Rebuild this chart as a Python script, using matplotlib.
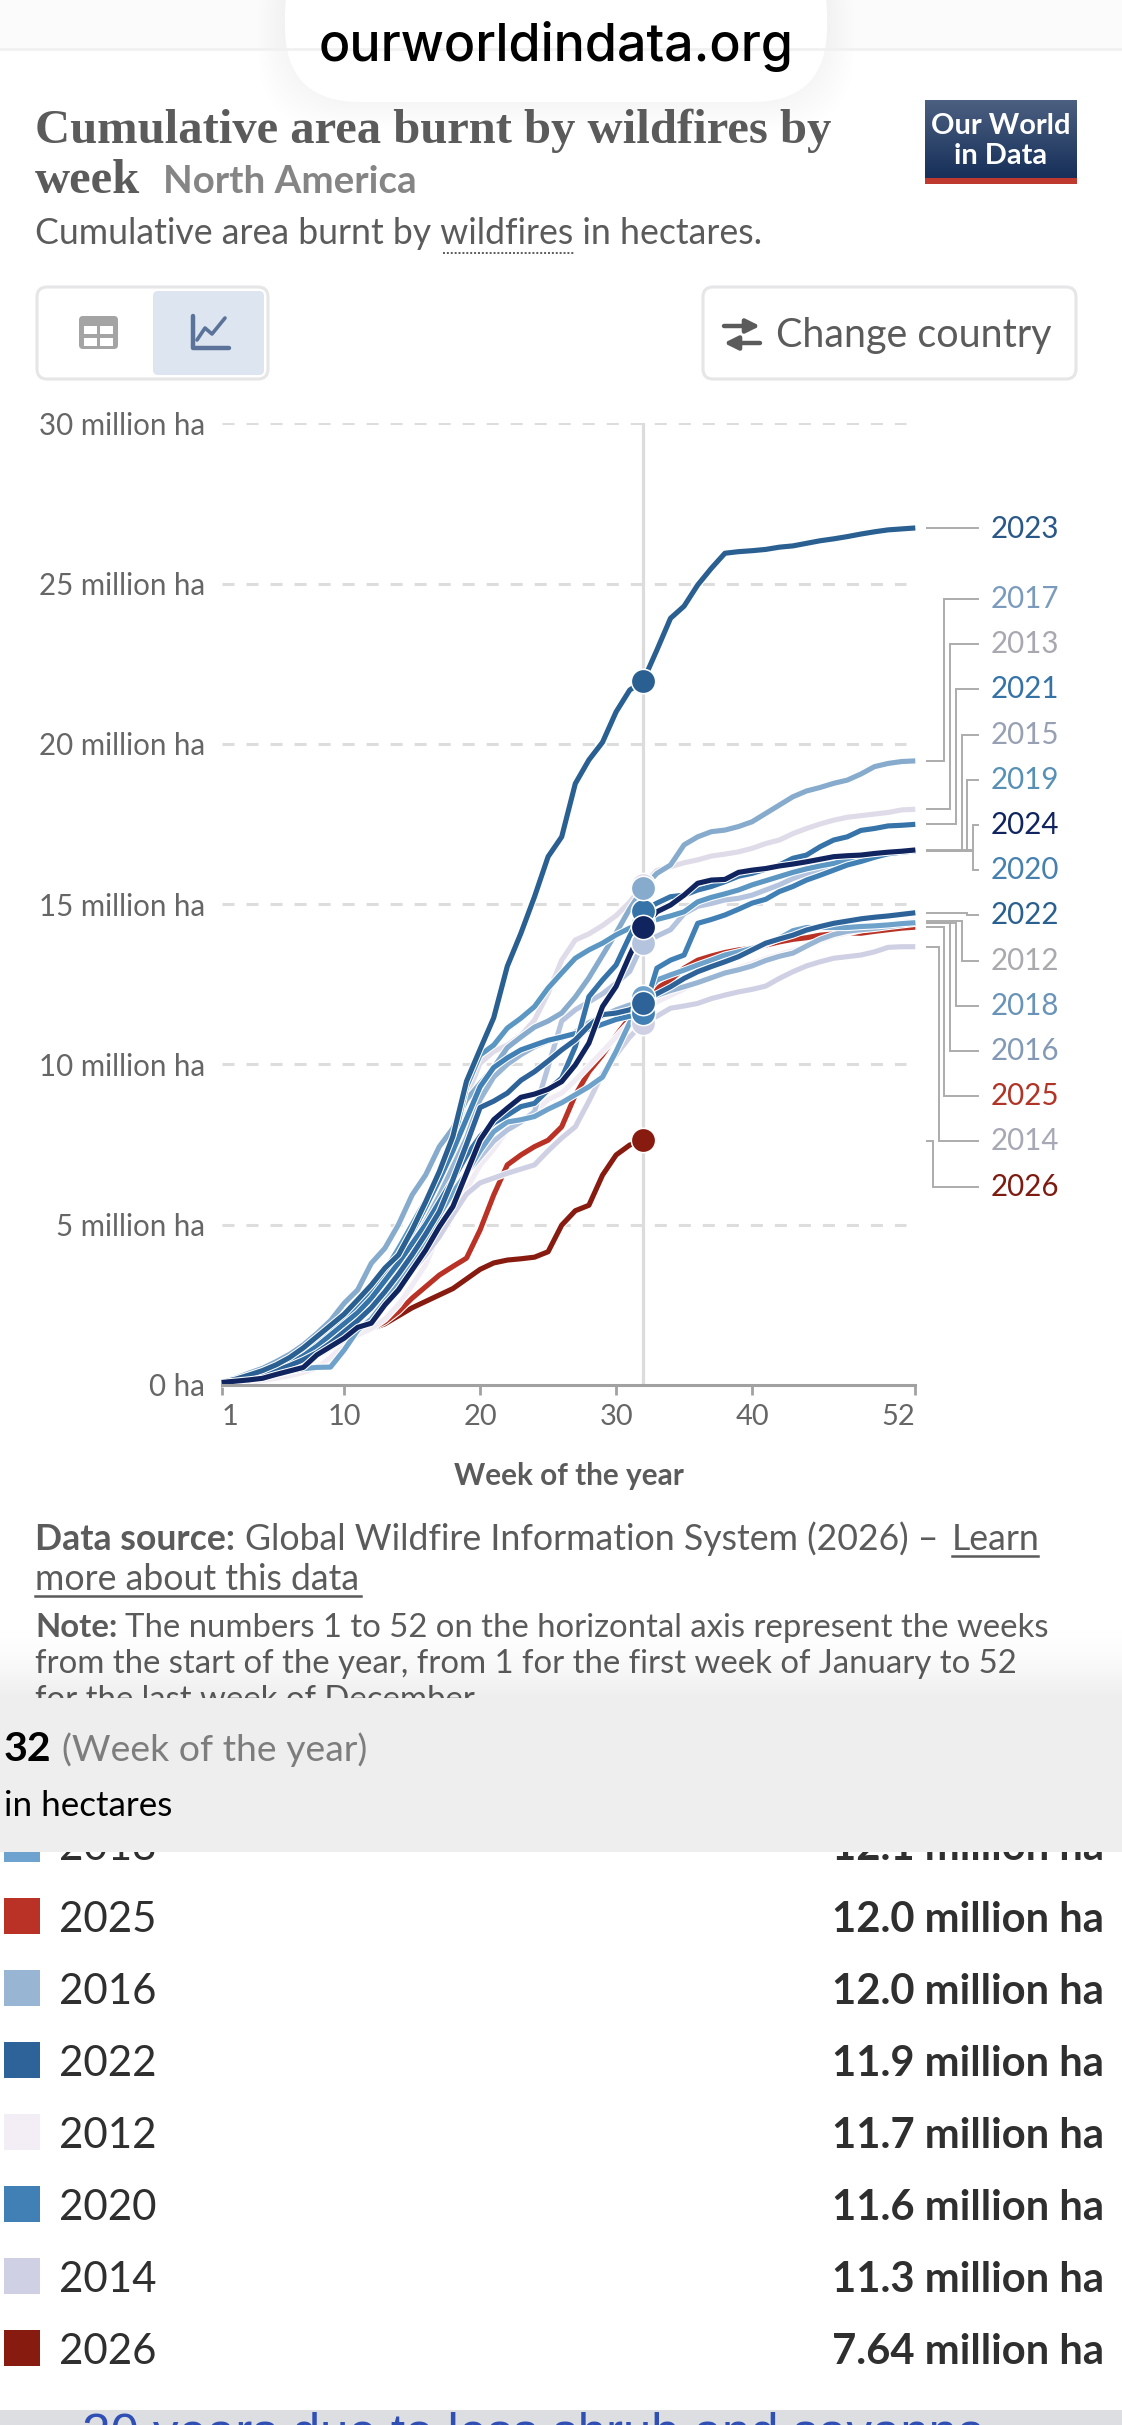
import numpy as np
import matplotlib
matplotlib.use("Agg")
import matplotlib.pyplot as plt
import matplotlib.patheffects as pe
from matplotlib.patches import FancyBboxPatch, Rectangle

W, H = 1122, 2425
weeks = list(range(1, 53))

y2012 = [.03,.05,.08,.13,.2,.28,.38,.52,.85,1.25,1.55,1.75,2.05,2.5,3.1,3.75,4.75,5.4,6.1,6.85,7.35,7.95,8.2,8.5,8.9,9.1,9.5,9.95,10.4,10.85,11.3,11.7,
         11.95,12.15,12.35,12.55,12.7,12.85,13.0,13.15,13.3,13.42,13.55,13.68,13.85,14.0,14.1,14.2,14.27,14.35,14.42,14.48]
y2013 = [.05,.12,.2,.3,.42,.6,.85,1.15,1.5,1.85,2.2,2.6,3.15,3.8,4.6,5.4,6.3,7.2,9.0,10.03,10.4,10.6,10.9,11.38,12.22,13.25,13.88,14.07,14.33,14.64,15.06,15.6,
         16.05,16.17,16.29,16.38,16.5,16.56,16.63,16.74,16.89,17.0,17.2,17.36,17.5,17.62,17.71,17.76,17.81,17.86,17.94,17.96]
y2014 = [.03,.07,.12,.22,.35,.5,.7,.9,1.15,1.4,1.7,2.1,2.55,3.05,3.55,4.05,4.62,5.3,5.95,6.3,6.45,6.6,6.73,6.86,7.3,7.7,8.05,8.85,9.7,10.3,10.85,11.3,
         11.5,11.75,11.82,11.9,12.05,12.16,12.26,12.34,12.44,12.68,12.89,13.07,13.2,13.31,13.36,13.41,13.51,13.65,13.67,13.67]
y2015 = [.04,.1,.18,.3,.45,.62,.85,1.15,1.45,1.8,2.15,2.55,3.0,3.5,4.1,4.7,5.3,5.9,6.6,7.1,7.6,7.95,8.2,8.52,9.92,11.35,11.7,11.95,12.2,12.53,12.9,13.8,
         14.0,14.2,14.7,14.93,15.02,15.13,15.18,15.28,15.44,15.6,15.8,15.95,16.1,16.22,16.32,16.4,16.47,16.55,16.6,16.65]
y2016 = [.05,.11,.2,.32,.46,.62,.82,1.08,1.4,1.75,2.1,2.5,3.05,3.65,4.35,5.1,5.9,6.8,7.7,8.9,9.6,10.0,10.3,10.55,10.72,10.82,11.0,11.3,11.5,11.7,11.85,12.0,
         12.15,12.3,12.42,12.55,12.7,12.85,12.95,13.07,13.24,13.37,13.47,13.69,13.9,14.05,14.15,14.2,14.24,14.3,14.35,14.4]
y2017 = [.08,.2,.36,.51,.72,.95,1.24,1.6,2.0,2.54,2.96,3.79,4.26,5.0,5.92,6.55,7.43,8.0,8.9,9.4,9.9,10.52,10.85,11.16,11.35,11.6,12.1,12.7,13.4,14.1,14.85,15.5,
         15.96,16.22,16.85,17.1,17.26,17.31,17.42,17.57,17.83,18.09,18.35,18.53,18.64,18.77,18.87,19.06,19.29,19.39,19.45,19.47]
y2018 = [.05,.1,.17,.25,.33,.42,.5,.54,.55,1.08,1.7,2.05,2.6,3.15,3.75,4.4,5.3,6.0,6.6,7.3,7.9,8.2,8.27,8.37,8.6,8.8,9.05,9.3,9.6,10.4,11.3,12.1,
         12.63,12.79,12.94,13.1,13.25,13.41,13.51,13.62,13.75,13.93,14.17,14.27,14.27,14.27,14.27,14.3,14.32,14.35,14.39,14.42]
y2019 = [.06,.15,.26,.4,.55,.75,1.0,1.35,1.7,2.05,2.45,2.95,3.55,4.25,5.0,5.75,6.6,7.5,9.3,10.29,10.6,11.13,11.44,11.8,12.38,12.85,13.31,13.57,13.78,14.04,14.25,14.4,
         14.52,14.63,14.76,15.07,15.21,15.32,15.44,15.6,15.73,15.86,15.99,16.1,16.19,16.27,16.38,16.43,16.5,16.57,16.63,16.67]
y2020 = [.05,.13,.24,.38,.54,.72,.95,1.25,1.6,2.0,2.4,2.85,3.45,4.05,4.75,5.55,6.4,7.3,8.3,9.3,9.9,10.2,10.45,10.6,10.75,10.85,10.96,11.1,11.25,11.4,11.5,11.6,
         13.0,13.25,13.41,14.4,14.52,14.66,14.84,15.03,15.15,15.39,15.55,15.75,15.9,16.06,16.22,16.33,16.46,16.57,16.62,16.66]
y2021 = [.05,.12,.22,.35,.5,.68,.9,1.2,1.55,1.9,2.25,2.7,3.25,3.8,4.4,5.0,5.7,6.4,7.15,7.75,8.17,8.41,8.68,8.78,9.2,9.57,10.55,12.11,12.63,13.1,14.0,14.8,
         15.03,15.23,15.28,15.44,15.55,15.7,15.87,15.96,16.09,16.22,16.43,16.53,16.79,17.0,17.1,17.3,17.36,17.44,17.46,17.49]
y2022 = [.05,.11,.19,.3,.44,.6,.78,1.0,1.3,1.65,2.0,2.4,2.9,3.45,4.05,4.7,5.4,6.4,7.5,8.65,8.85,9.1,9.5,9.77,10.1,10.45,10.76,11.2,11.55,11.6,11.7,11.9,
         12.2,12.42,12.68,12.89,13.05,13.2,13.36,13.57,13.78,13.91,14.03,14.19,14.3,14.4,14.47,14.54,14.59,14.63,14.68,14.73]
y2023 = [.07,.17,.3,.44,.62,.85,1.15,1.5,1.85,2.2,2.65,3.11,3.64,4.05,4.83,5.71,6.65,7.75,9.47,10.47,11.45,13.06,14.09,15.23,16.48,17.1,18.76,19.5,20.05,21.0,21.68,21.97,
         22.93,23.92,24.3,24.96,25.48,25.95,26.0,26.03,26.07,26.14,26.18,26.26,26.34,26.4,26.47,26.55,26.62,26.68,26.71,26.74]
y2024 = [.07,.11,.15,.2,.32,.43,.54,.93,1.19,1.45,1.79,1.92,2.49,2.96,3.58,4.2,4.93,5.56,6.6,7.64,8.27,8.63,8.97,9.07,9.22,9.46,9.98,10.66,11.8,12.43,13.4,14.3,
         14.76,14.97,15.28,15.65,15.75,15.77,15.99,16.06,16.11,16.19,16.25,16.32,16.4,16.48,16.51,16.53,16.58,16.62,16.65,16.69]
y2025 = [.03,.05,.08,.13,.2,.28,.38,.52,.85,1.25,1.55,1.75,1.96,2.28,2.7,3.06,3.42,3.69,3.95,4.83,5.92,6.86,7.17,7.43,7.63,8.05,9.04,9.77,10.29,10.9,11.45,12.0,
         12.37,12.63,13.0,13.25,13.38,13.49,13.57,13.62,13.72,13.82,13.9,13.95,14.03,14.07,14.1,14.09,14.15,14.2,14.25,14.28]
y2026 = [.03,.05,.08,.13,.2,.28,.38,.52,.85,1.25,1.55,1.75,1.9,2.15,2.4,2.6,2.8,3.0,3.3,3.6,3.8,3.89,3.93,3.98,4.15,4.98,5.43,5.6,6.54,7.17,7.48,7.64]

series = {2012: y2012, 2013: y2013, 2014: y2014, 2015: y2015, 2016: y2016, 2017: y2017, 2018: y2018,
          2019: y2019, 2020: y2020, 2021: y2021, 2022: y2022, 2023: y2023, 2024: y2024, 2025: y2025, 2026: y2026}
line_colors = {2012: '#f1ecf4', 2013: '#dfdbe9', 2014: '#cfd0e4', 2015: '#b5c4de', 2016: '#98b5d3', 2017: '#86abcc',
               2018: '#6ea2ca', 2019: '#5b97c2', 2020: '#4180b5', 2021: '#3673a9', 2022: '#2d6399', 2023: '#2a5f91',
               2024: '#10245f', 2025: '#b93225', 2026: '#881b10'}
label_colors = {2012: '#aaa9ad', 2013: '#a9a8b0', 2014: '#a7a8b5', 2015: '#98a0b3', 2016: '#8399b5', 2017: '#7b9bbd',
                2018: '#6a94b7', 2019: '#5890b5', 2020: '#4580ae', 2021: '#3572a6', 2022: '#2a6090', 2023: '#285788',
                2024: '#10245f', 2025: '#b03527', 2026: '#7d1b11'}
draw_order = [2026, 2025, 2012, 2014, 2013, 2015, 2016, 2017, 2018, 2019, 2020, 2021, 2022, 2023, 2024]
marker_order = [2026, 2025, 2014, 2012, 2020, 2016, 2018, 2022, 2015, 2019, 2021, 2013, 2017, 2024, 2023]

label_order = [2023, 2017, 2013, 2021, 2015, 2019, 2024, 2020, 2022, 2012, 2018, 2016, 2025, 2014, 2026]
label_elbow = [None, 944, 950, 956, 962, 967, 973, 973, 967, 962, 956, 950, 944, 939, 933]

y_ticks = [0, 5, 10, 15, 20, 25, 30]
y_tick_labels = ['0 ha', '5 million ha', '10 million ha', '15 million ha', '20 million ha', '25 million ha', '30 million ha']
x_ticks = [1, 10, 20, 30, 40, 52]
hover_week = 32

table_years = [2018, 2025, 2016, 2022, 2012, 2020, 2014, 2026]
table_values = ['12.1 million ha', '12.0 million ha', '12.0 million ha', '11.9 million ha',
                '11.7 million ha', '11.6 million ha', '11.3 million ha', '7.64 million ha']
table_colors = ['#6fa3cf', '#b93225', '#98b5d3', '#2d6399', '#f3eef6', '#4180b5', '#cfd0e4', '#881b10']

plt.rcParams['font.family'] = ['Lato', 'DejaVu Sans']
fig = plt.figure(figsize=(W / 100, H / 100), dpi=100, facecolor='white')


def full_ax(z):
    a = fig.add_axes([0, 0, 1, 1], zorder=z)
    a.set_xlim(0, W)
    a.set_ylim(H, 0)
    a.axis('off')
    a.patch.set_alpha(0)
    return a


base = full_ax(0)
top = full_ax(3)
px = 1 / 1.389  # pixels to points
GREY = '#5b5b5b'

# ---- browser pill + top bar
base.add_patch(Rectangle((0, 0), W, 49, fc='#fbfbfb', ec='none'))
base.plot([0, W], [49, 49], color='#f1f1f1', lw=2)
for i in range(10):
    base.add_patch(FancyBboxPatch((285 - i * 3, -60), 542 + i * 6, 162 + i * 3, boxstyle='round,pad=0,rounding_size=78',
                                  fc='black', ec='none', alpha=0.0022))
base.add_patch(FancyBboxPatch((285, -60), 542, 162, boxstyle='round,pad=0,rounding_size=75', fc='white', ec='none'))
base.text(556, 47, 'ourworldindata.org', family='Inter', weight='medium', fontsize=52 * px, color='black', ha='center', va='center')

# ---- title
base.text(35, 143, 'Cumulative area burnt by wildfires by', family='Liberation Serif', weight='bold', fontsize=48.7 * px, color=GREY)
base.text(35, 193, 'week', family='Liberation Serif', weight='bold', fontsize=48.7 * px, color=GREY)
base.text(163, 193, 'North America', fontsize=38.5 * px, color='#858585', weight='bold')
base.text(35, 244, 'Cumulative area burnt by wildfires in hectares.', fontsize=35.7 * px, color=GREY)
base.plot([443, 575], [253, 253], color=GREY, lw=1.4, ls=(0, (1, 1)))

# ---- logo
base.imshow(np.linspace(0, 1, 78)[:, None], extent=(925, 1077, 178, 100), aspect='auto', zorder=1,
            cmap=matplotlib.colors.LinearSegmentedColormap.from_list('l', ['#4b5f80', '#17305a']))
base.set_xlim(0, W)
base.set_ylim(H, 0)
base.add_patch(Rectangle((925, 178), 152, 6, fc='#c0392f', ec='none', zorder=2))
base.text(1001, 126, 'Our World', color='white', weight='bold', fontsize=29 * px, ha='center', va='center', zorder=3)
base.text(1001, 156, 'in Data', color='white', weight='bold', fontsize=29 * px, ha='center', va='center', zorder=3)

# ---- buttons
base.add_patch(FancyBboxPatch((37, 287), 231, 92, boxstyle='round,pad=0,rounding_size=10', fc='white', ec='#e6e6e8', lw=2.2))
base.add_patch(FancyBboxPatch((153, 291), 111, 84, boxstyle='round,pad=0,rounding_size=5', fc='#dde5f0', ec='none'))
base.add_patch(FancyBboxPatch((79, 316), 39, 33, boxstyle='round,pad=0,rounding_size=4', fc='#a4a4a4', ec='none'))
for rx, ry in [(84, 326), (100, 326), (84, 338), (100, 338)]:
    base.add_patch(Rectangle((rx, ry), 13, 8, fc='white', ec='none'))
base.plot([193, 193, 229], [316, 348, 348], color='#5b7399', lw=3.2, solid_capstyle='round', solid_joinstyle='round')
base.plot([197, 205, 212, 225], [340, 328, 334, 318], color='#5b7399', lw=2.6, solid_capstyle='round')
base.add_patch(FancyBboxPatch((703, 287), 373, 92, boxstyle='round,pad=0,rounding_size=10', fc='white', ec='#e6e6e8', lw=2.2))
base.annotate('', xy=(760, 326), xytext=(724, 326), arrowprops=dict(arrowstyle='-|>', color=GREY, lw=3.2, shrinkA=0, shrinkB=0, mutation_scale=20))
base.annotate('', xy=(724, 343), xytext=(760, 343), arrowprops=dict(arrowstyle='-|>', color=GREY, lw=3.2, shrinkA=0, shrinkB=0, mutation_scale=20))
base.text(776, 347, 'Change country', fontsize=39.5 * px, color=GREY)

# ---- chart
x0, x1 = 221.7, 915.3
ybot, ytop = 1384.7, 423.5
ax = fig.add_axes([x0 / W, 1 - ybot / H, (x1 - x0) / W, (ybot - ytop) / H], zorder=2)
ax.patch.set_alpha(0)
ax.set_xlim(1, 52)
ax.set_ylim(0, 30)
for s in ['top', 'right', 'left']:
    ax.spines[s].set_visible(False)
ax.spines['bottom'].set_color('#a1a1a1')
ax.spines['bottom'].set_linewidth(2.2)
ax.set_yticks(y_ticks)
ax.set_yticklabels(y_tick_labels, fontsize=29.5 * px, color='#666666')
ax.tick_params(axis='y', length=0, pad=12)
ax.set_xticks(x_ticks)
ax.set_xticklabels([str(t) for t in x_ticks], fontsize=29 * px, color='#666666')
ax.tick_params(axis='x', length=7, width=2, color='#a1a1a1', pad=7)
for lab, t in zip(ax.get_xticklabels(), x_ticks):
    if t == 1:
        lab.set_ha('left')
    if t == 52:
        lab.set_ha('right')
for yv in y_ticks[1:]:
    ax.plot([1, 51.3], [yv, yv], color='#dddddd', lw=2.2, ls=(0, (3.93, 3.93)), zorder=1)
ax.axvline(hover_week, color='#dcdcdc', lw=2.3, zorder=1.5)

halo = [pe.withStroke(linewidth=5.2, foreground='white')]
for i, yr in enumerate(draw_order):
    v = series[yr]
    ax.plot(weeks[:len(v)], v, color=line_colors[yr], lw=3.7, zorder=2 + i * 0.01, path_effects=halo,
            solid_joinstyle='round', solid_capstyle='butt', clip_on=False)
for i, yr in enumerate(marker_order):
    v = series[yr][hover_week - 1]
    ax.plot([hover_week], [v], 'o', ms=17.5, mfc=line_colors[yr], mec='white', mew=1.1, zorder=3 + i * 0.01)

trans = ax.transData
inv = base.transData.inverted()
label_ys = [528.6] + [599 + k * 45.2 for k in range(14)]
for i, yr in enumerate(label_order):
    ly = label_ys[i]
    base.text(991, ly, str(yr), color=label_colors[yr], fontsize=29.5 * px, va='center', ha='left')
    if yr == 2026:
        sy = label_ys[i - 1]
    else:
        sy = inv.transform(trans.transform((52, series[yr][-1])))[1]
    elbow = label_elbow[i]
    if elbow is None:
        xs, ys = [927, 978], [sy, sy]
    else:
        xs, ys = [927, elbow, elbow, 978], [sy, sy, ly, ly]
    base.plot(xs, ys, color='#acacac', lw=1.4, solid_joinstyle='miter')

base.text(569, 1476, 'Week of the year', fontsize=29.7 * px, weight='bold', color=GREY, ha='center', va='center')

# ---- footer text
base.text(35, 1550, 'Data source:', fontsize=35.6 * px, weight='bold', color=GREY)
base.text(245, 1550, 'Global Wildfire Information System (2026) – ', fontsize=35.6 * px, color=GREY)
base.text(952, 1550, 'Learn', fontsize=35.6 * px, color=GREY)
base.plot([952, 1038], [1556, 1556], color=GREY, lw=1.8)
base.text(35, 1590, 'more about this data', fontsize=35.6 * px, color=GREY)
base.plot([35, 361], [1596, 1596], color=GREY, lw=1.8)
base.text(35, 1637, 'Note:', fontsize=32.9 * px, weight='bold', color=GREY)
base.text(125, 1637, 'The numbers 1 to 52 on the horizontal axis represent the weeks', fontsize=32.9 * px, color=GREY)
base.text(35, 1673, 'from the start of the year, from 1 for the first week of January to 52', fontsize=32.9 * px, color=GREY)
base.text(35, 1709, 'for the last week of December', fontsize=32.9 * px, color=GREY)

# ---- table
for i, (yr, val, col) in enumerate(zip(table_years, table_values, table_colors)):
    cy = 1844 + i * 72
    base.add_patch(Rectangle((4, cy - 18), 36, 36, fc=col, ec='none'))
    base.text(59, cy + 4, str(yr), fontsize=42 * px, color='#2f2f2f', va='center')
    base.text(1104, cy + 4, val, fontsize=41.8 * px, color='#2f2f2f', weight='bold', va='center', ha='right')

# ---- hover panel on top
shade = np.linspace(0, 1, 90)[:, None] ** 2
top.imshow(np.dstack([np.zeros((90, 1))] * 3 + [shade * 0.07]), extent=(0, W, 1698, 1608), aspect='auto', zorder=1)
top.set_xlim(0, W)
top.set_ylim(H, 0)
top.add_patch(Rectangle((0, 1698), W, 154, fc='#eeeeee', ec='none', zorder=2))
top.text(4, 1761, '32', fontsize=41 * px, weight='bold', color='black', zorder=3)
top.text(62, 1761, '(Week of the year)', fontsize=37.4 * px, color='#7d7d7d', zorder=3)
top.text(4, 1816, 'in hectares', fontsize=35 * px, color='black', zorder=3)

# ---- bottom strip
top.add_patch(Rectangle((0, 2410), W, 15, fc='#dcdee2', ec='none', zorder=2))
top.text(534, 2412, '20 years due to less shrub and savanna', family='Liberation Sans', fontsize=51 * px, color='#2f4fb5',
         ha='center', va='top', zorder=3)

fig.savefig('out.png', dpi=100)
